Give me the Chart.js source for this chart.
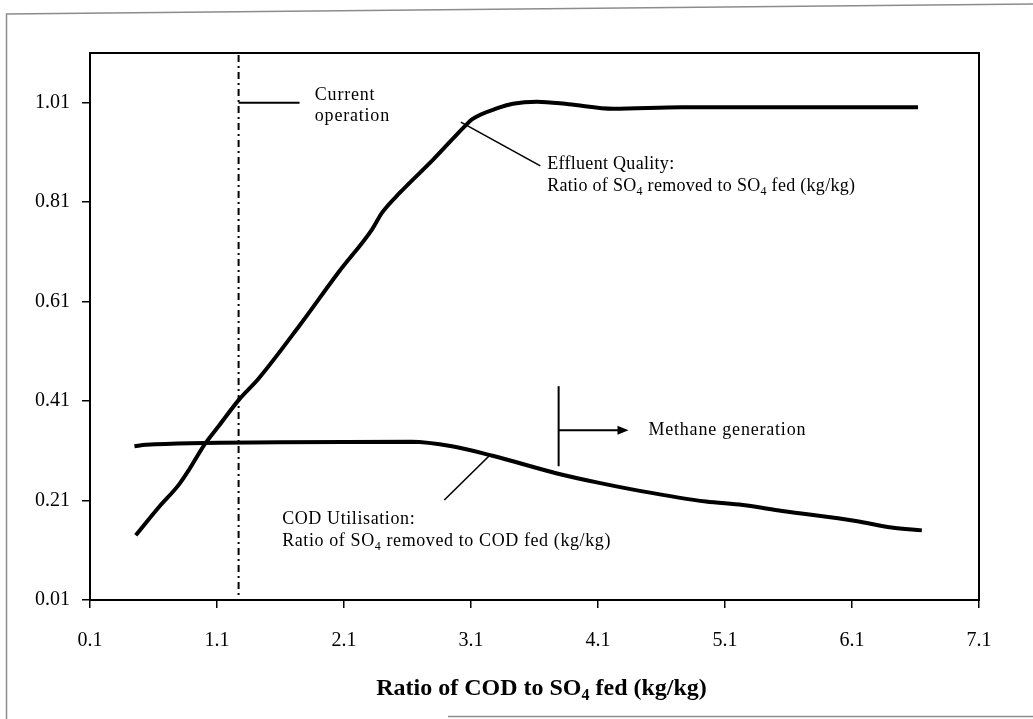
<!DOCTYPE html>
<html>
<head>
<meta charset="utf-8">
<script src="https://cdn.jsdelivr.net/npm/chart.js@4"></script>
<style>
  html, body { margin: 0; padding: 0; background: #fff; }
  #wrap { width: 1033px; height: 719px; }
</style>
</head>
<body>
<div id="wrap"><canvas id="c" width="1033" height="719"></canvas></div>
<script>
// Ratio of COD to SO4 fed (kg/kg)
const effluentX = [0.46, 0.64, 0.80, 0.88, 1.00, 1.12, 1.27, 1.43, 1.75, 2.06, 2.32, 2.40, 2.54, 2.80, 3.06, 3.11, 3.32, 3.43, 3.62, 3.87, 4.22, 4.76, 5.71, 6.62];
// Effluent quality: SO4 removed / SO4 fed (kg/kg)
const effluentY = [0.140, 0.196, 0.242, 0.272, 0.322, 0.362, 0.412, 0.456, 0.562, 0.670, 0.755, 0.789, 0.829, 0.895, 0.965, 0.977, 1.000, 1.008, 1.012, 1.007, 0.998, 1.001, 1.001, 1.001];

const codX = [0.45, 0.54, 1.59, 2.63, 2.95, 3.27, 3.77, 4.10, 4.44, 4.95, 5.24, 5.55, 6.13, 6.41, 6.65];
// COD utilisation: SO4 removed / COD fed (kg/kg)
const codY = [0.319, 0.322, 0.327, 0.328, 0.319, 0.300, 0.265, 0.246, 0.229, 0.208, 0.201, 0.189, 0.169, 0.156, 0.150];

const xTicks = [0.1, 1.1, 2.1, 3.1, 4.1, 5.1, 6.1, 7.1];
const yTicks = [0.01, 0.21, 0.41, 0.61, 0.81, 1.01];

const currentOperation = 1.27;   // present COD:SO4 ratio
const methaneOnset = 3.79;       // ratio beyond which methane is generated

const SERIF = '"Liberation Serif", "Times New Roman", serif';

// text with SO4-style subscripts: parts = [[text, isSub], ...]
function drawRich(ctx, x, y, parts, size, weight) {
  let cx = x;
  for (const [t, sub] of parts) {
    const fs = sub ? Math.round(size * 0.65) : size;
    ctx.font = `${weight || ''} ${fs}px ${SERIF}`;
    ctx.fillText(t, cx, sub ? y + size * 0.22 : y);
    cx += ctx.measureText(t).width;
  }
  return cx - x;
}
function richWidth(ctx, parts, size, weight) {
  let w = 0;
  for (const [t, sub] of parts) {
    const fs = sub ? Math.round(size * 0.65) : size;
    ctx.font = `${weight || ''} ${fs}px ${SERIF}`;
    w += ctx.measureText(t).width;
  }
  return w;
}
function spacing(ctx, px) {
  if ('letterSpacing' in ctx) ctx.letterSpacing = px + 'px';
}

const annotations = {
  id: 'annotations',
  beforeDraw(chart) {
    const ctx = chart.ctx;
    ctx.save();
    ctx.fillStyle = '#fff';
    ctx.fillRect(0, 0, chart.width, chart.height);
    ctx.restore();
  },
  afterDraw(chart) {
    const { ctx, chartArea: a, scales: { x, y } } = chart;
    const X = v => x.getPixelForValue(v);
    const Y = v => y.getPixelForValue(v);
    ctx.save();

    // page outline
    ctx.strokeStyle = '#8c8c8c';
    ctx.lineWidth = 1.5;
    ctx.beginPath();
    ctx.moveTo(6.5, 719); ctx.lineTo(6.5, 14); ctx.lineTo(1033, 4);
    ctx.stroke();
    ctx.beginPath();
    ctx.moveTo(448, 716.5); ctx.lineTo(1033, 716.5);
    ctx.stroke();

    // plot frame
    ctx.strokeStyle = '#000';
    ctx.lineWidth = 2;
    ctx.strokeRect(a.left, a.top, a.right - a.left, a.bottom - a.top);

    // current operation marker (dash-dot)
    ctx.lineWidth = 2;
    ctx.setLineDash([7, 4, 2, 4]);
    ctx.beginPath();
    ctx.moveTo(X(currentOperation), a.top + 2);
    ctx.lineTo(X(currentOperation), a.bottom);
    ctx.stroke();
    ctx.setLineDash([]);
    ctx.beginPath();
    ctx.moveTo(X(currentOperation), Y(1.01));
    ctx.lineTo(X(1.75), Y(1.01));
    ctx.stroke();

    ctx.fillStyle = '#000';
    ctx.textBaseline = 'alphabetic';
    ctx.textAlign = 'left';
    const tx = X(1.87), ty = Y(1.01);
    ctx.font = `18px ${SERIF}`;
    spacing(ctx, 0.8);
    ctx.fillText('Current', tx, ty - 3);
    ctx.fillText('operation', tx, ty + 18);

    // effluent quality label
    ctx.lineWidth = 1.6;
    ctx.beginPath();
    ctx.moveTo(X(3.02), Y(0.971));
    ctx.lineTo(X(3.646), Y(0.883));
    ctx.stroke();
    const ex = X(3.70), ey = Y(0.877);
    spacing(ctx, 0.3);
    ctx.font = `18px ${SERIF}`;
    ctx.fillText('Effluent Quality:', ex, ey);
    drawRich(ctx, ex, ey + 22, [['Ratio of SO'], ['4', true], [' removed to SO'], ['4', true], [' fed (kg/kg)']], 18);

    // COD utilisation label
    ctx.beginPath();
    ctx.moveTo(X(3.244), Y(0.300));
    ctx.lineTo(X(2.89), Y(0.211));
    ctx.stroke();
    const cx = X(1.613), cy = Y(0.1635);
    spacing(ctx, 0.6);
    ctx.font = `18px ${SERIF}`;
    ctx.fillText('COD Utilisation:', cx, cy);
    drawRich(ctx, cx, cy + 22, [['Ratio of SO'], ['4', true], [' removed to COD fed (kg/kg)']], 18);

    // methane generation marker
    spacing(ctx, 0);
    ctx.lineWidth = 2;
    ctx.beginPath();
    ctx.moveTo(X(methaneOnset), Y(0.44));
    ctx.lineTo(X(methaneOnset), Y(0.279));
    ctx.stroke();
    const ay = Y(0.3515), tip = X(4.34);
    ctx.beginPath();
    ctx.moveTo(X(methaneOnset), ay);
    ctx.lineTo(tip - 9, ay);
    ctx.stroke();
    ctx.beginPath();
    ctx.moveTo(tip, ay);
    ctx.lineTo(tip - 11, ay - 4.5);
    ctx.lineTo(tip - 11, ay + 4.5);
    ctx.closePath();
    ctx.fill();
    spacing(ctx, 0.8);
    ctx.font = `18px ${SERIF}`;
    ctx.fillText('Methane generation', X(4.497), Y(0.342));

    // x-axis title
    spacing(ctx, 0);
    const tparts = [['Ratio of COD to SO'], ['4', true], [' fed (kg/kg)']];
    const tw = richWidth(ctx, tparts, 24, 'bold');
    drawRich(ctx, (a.left + a.right) / 2 + 7 - tw / 2, 695, tparts, 24, 'bold');

    ctx.restore();
  }
};

const ctx = document.getElementById('c').getContext('2d');
new Chart(ctx, {
  type: 'line',
  data: {
    datasets: [
      {
        label: 'Effluent Quality',
        data: effluentX.map((v, i) => ({ x: v, y: effluentY[i] })),
        borderColor: '#000',
        borderWidth: 4,
        pointRadius: 0,
        cubicInterpolationMode: 'monotone',
        fill: false
      },
      {
        label: 'COD Utilisation',
        data: codX.map((v, i) => ({ x: v, y: codY[i] })),
        borderColor: '#000',
        borderWidth: 4,
        pointRadius: 0,
        cubicInterpolationMode: 'monotone',
        fill: false
      }
    ]
  },
  options: {
    responsive: false,
    animation: false,
    devicePixelRatio: 1,
    layout: { padding: { top: 53, right: 54, bottom: 0, left: 0 } },
    plugins: { legend: { display: false }, tooltip: { enabled: false }, title: { display: false } },
    scales: {
      x: {
        type: 'linear',
        min: 0.1,
        max: 7.1,
        afterFit: s => { s.height = 119; },
        afterBuildTicks: s => { s.ticks = xTicks.map(v => ({ value: v })); },
        grid: { display: true, drawOnChartArea: false, drawTicks: true, tickLength: 8, color: '#000', lineWidth: 1.5 },
        border: { display: true, color: '#000', width: 2 },
        ticks: {
          color: '#000',
          padding: 21,
          maxRotation: 0,
          font: { family: SERIF, size: 20 },
          callback: v => v.toFixed(1)
        }
      },
      y: {
        type: 'linear',
        min: 0.01,
        max: 1.11,
        afterFit: s => { s.width = 90; },
        afterBuildTicks: s => { s.ticks = yTicks.map(v => ({ value: v })); },
        grid: { display: true, drawOnChartArea: false, drawTicks: true, tickLength: 8, color: '#000', lineWidth: 1.5 },
        border: { display: true, color: '#000', width: 2 },
        ticks: {
          color: '#000',
          padding: 12,
          font: { family: SERIF, size: 20 },
          callback: v => v.toFixed(2)
        }
      }
    }
  },
  plugins: [annotations]
});
</script>
</body>
</html>
